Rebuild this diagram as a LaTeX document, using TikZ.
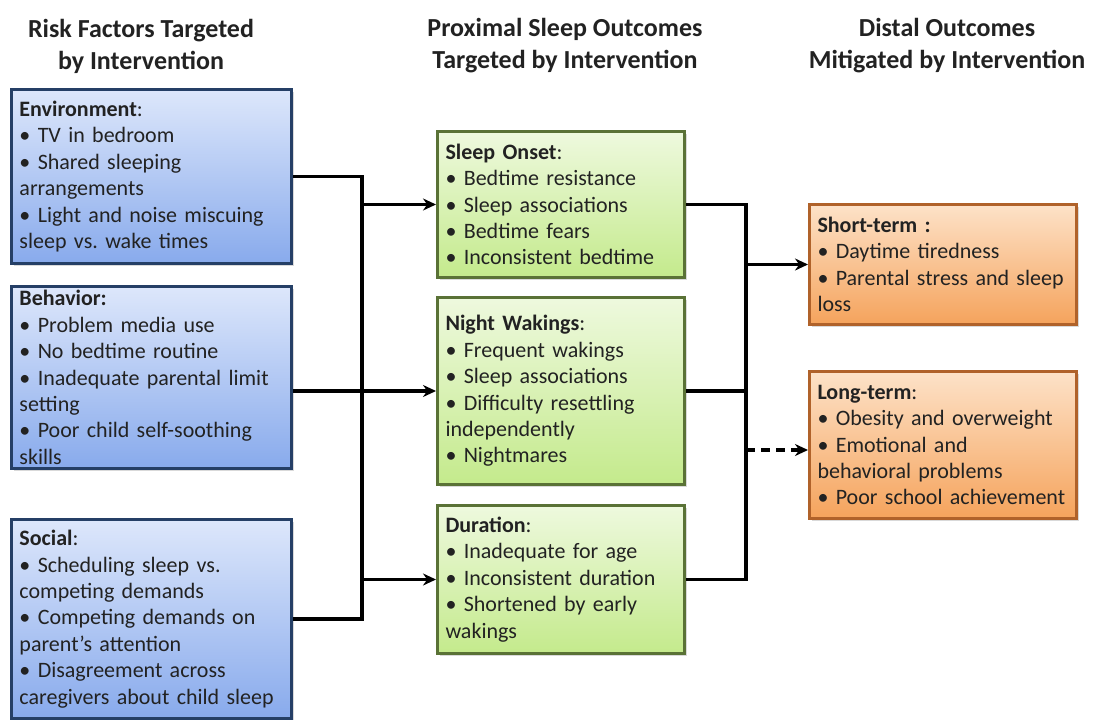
\documentclass[tikz,border=0pt]{standalone}
\usepackage{fontspec}
\setmainfont{Carlito}
\usetikzlibrary{arrows.meta,shadows}

\definecolor{txt}{HTML}{222222}
\definecolor{blueTop}{HTML}{DDE7FB}
\definecolor{blueBot}{HTML}{88AAEC}
\definecolor{blueEdge}{HTML}{253F66}
\definecolor{greenTop}{HTML}{EEF9DE}
\definecolor{greenBot}{HTML}{C4EA8C}
\definecolor{greenEdge}{HTML}{5A7236}
\definecolor{orangeTop}{HTML}{FDE2C8}
\definecolor{orangeBot}{HTML}{F5A35C}
\definecolor{orangeEdge}{HTML}{B0622A}

\newcommand{\bu}{\textbullet\ }
\hyphenpenalty=10000
\exhyphenpenalty=10000

\begin{document}
\begin{tikzpicture}[x=1pt,y=-1pt,
  header/.style={align=center, text=txt,
    font=\fontsize{26}{32}\selectfont\bfseries},
  box/.style={draw, line width=3pt, anchor=north west, align=left,
    inner xsep=8pt, inner ysep=4pt, text=txt,
    font=\fontsize{22}{26.4}\selectfont,
    drop shadow={shadow xshift=2pt, shadow yshift=-2pt, opacity=0.3}},
  riskbox/.style={box, draw=blueEdge, top color=blueTop, bottom color=blueBot,
    minimum width=280pt, text width=264pt},
  sleepbox/.style={box, draw=greenEdge, top color=greenTop, bottom color=greenBot,
    minimum width=247pt, text width=231pt},
  distalbox/.style={box, draw=orangeEdge, top color=orangeTop, bottom color=orangeBot,
    minimum width=267pt, text width=251pt},
  conn/.style={line width=3.4pt, line join=miter, black},
  arr/.style={conn, -{Stealth[length=13pt, width=12pt]}},
]
\useasboundingbox (0,0) rectangle (1093,720);

% column titles
\node[header] (h1) at (141,46) {Risk Factors Targeted\\by Intervention};
\node[header] (h2) at (565,46) {Proximal Sleep Outcomes\\Targeted by Intervention};
\node[header] (h3) at (947,46) {Distal Outcomes\\Mitigated by Intervention};

% risk factors
\node[riskbox, minimum height=174pt] (env) at (10,88) {%
  \textbf{Environment}:\\
  \bu TV in bedroom\\
  \bu Shared sleeping\\
  arrangements\\
  \bu Light and noise miscuing\\
  sleep vs.\ wake times};
\node[riskbox, minimum height=172pt] (beh) at (10,285) {%
  \textbf{Behavior:}\\
  \bu Problem media use\\
  \bu No bedtime routine\\
  \bu Inadequate parental limit\\
  setting\\
  \bu Poor child self-soothing\\
  skills};
\node[riskbox, minimum height=199pt] (soc) at (10,518) {%
  \textbf{Social}:\\
  \bu Scheduling sleep vs.\\
  competing demands\\
  \bu Competing demands on\\
  parent’s attention\\
  \bu Disagreement across\\
  caregivers about child sleep};

% proximal sleep outcomes
\node[sleepbox, minimum height=146pt] (onset) at (436,130) {%
  \textbf{Sleep Onset}:\\
  \bu Bedtime resistance\\
  \bu Sleep associations\\
  \bu Bedtime fears\\
  \bu Inconsistent bedtime};
\node[sleepbox, minimum height=187pt] (night) at (436,296) {%
  \textbf{Night Wakings}:\\
  \bu Frequent wakings\\
  \bu Sleep associations\\
  \bu Difficulty resettling\\
  independently\\
  \bu Nightmares};
\node[sleepbox, minimum height=148pt] (dur) at (436,504) {%
  \textbf{Duration}:\\
  \bu Inadequate for age\\
  \bu Inconsistent duration\\
  \bu Shortened by early\\
  wakings};

% distal outcomes
\node[distalbox, minimum height=120pt] (short) at (808,203) {%
  \textbf{Short-term :}\\
  \bu Daytime tiredness\\
  \bu Parental stress and sleep\\
  loss};
\node[distalbox, minimum height=147pt] (long) at (808,370) {%
  \textbf{Long-term}:\\
  \bu Obesity and overweight\\
  \bu Emotional and\\
  behavioral problems\\
  \bu Poor school achievement};

% junction lines
\coordinate (jl) at (362,0);
\coordinate (jr) at (746,0);
\coordinate (ltin) at (808,450);

% left bus
\draw[conn] (env.east) -| (jl |- soc.east) -- (soc.east);
\draw[arr] (jl |- onset.west) -- (onset.west);
\draw[arr] (jl |- dur.west) -- (dur.west);
\draw[arr] (beh.east |- night.west) -- (night.west);

% right bus
\draw[conn] (onset.east) -| (jr |- dur.east) -- (dur.east);
\draw[conn] (night.east) -- (jr |- night.east);
\draw[arr] (jr |- short.west) -- (short.west);
\draw[arr, dashed, dash pattern=on 9pt off 6pt] (jr |- ltin) -- (ltin);
\end{tikzpicture}
\end{document}
